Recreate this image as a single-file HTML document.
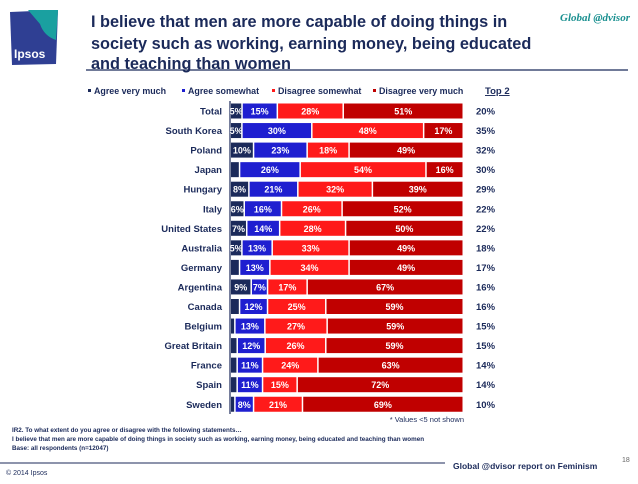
<!DOCTYPE html>
<html><head><meta charset="utf-8"><style>
body{margin:0;width:638px;height:479px;background:#fff;overflow:hidden;font-family:"Liberation Sans",Arial,sans-serif;}
</style></head><body>
<svg id="c" width="638" height="479" xmlns="http://www.w3.org/2000/svg">
<g>
<path d="M10 12 L58 10 L56 64 L12 65 Z" fill="#2f3f93"/>
<path d="M28 10 L58 10 L56 40 Q44 36 40 24 Z" fill="#1aa0a0"/>
<text x="14" y="58" font-size="12" fill="#fff" font-weight="bold">Ipsos</text>
</g>
<text x="91" y="27" font-size="16.3" font-weight="bold" fill="#1b2a5a">I believe that men are more capable of doing things in</text>
<text x="91" y="49" font-size="16.3" font-weight="bold" fill="#1b2a5a">society such as working, earning money, being educated</text>
<text x="91" y="69" font-size="16.3" font-weight="bold" fill="#1b2a5a">and teaching than women</text>
<line x1="86" y1="70" x2="628" y2="70" stroke="#1b2a5a" stroke-width="1.2"/>
<text x="630" y="21" font-size="11" font-style="italic" font-weight="bold" fill="#1a9090" text-anchor="end" font-family="Liberation Serif,serif">Global @dvisor</text>
<g font-size="8.9" font-weight="bold" fill="#1b2a5a">
<rect x="88" y="89" width="3" height="3" fill="#1b2a5a"/><text x="94" y="94">Agree very much</text>
<rect x="182" y="89" width="3" height="3" fill="#1f1fd0"/><text x="188" y="94">Agree somewhat</text>
<rect x="272" y="89" width="3" height="3" fill="#ff1a1a"/><text x="278" y="94">Disagree somewhat</text>
<rect x="373" y="89" width="3" height="3" fill="#c00000"/><text x="379" y="94">Disagree very much</text>
</g>
<text x="485" y="94" font-size="9.5" font-weight="bold" fill="#1b2a5a" text-decoration="underline">Top 2</text>
<line x1="230" y1="101" x2="230" y2="414" stroke="#1b2a5a" stroke-width="1.2"/>
<g id="bars"></g>
<text x="464" y="422" font-size="7.5" fill="#1b2a5a" text-anchor="end">* Values &lt;5 not shown</text>
<g font-size="6.3" font-weight="bold" fill="#1b2a5a">
<text x="12" y="432">IR2. To what extent do you agree or disagree with the following statements…</text>
<text x="12" y="441">I believe that men are more capable of doing things in society such as working, earning money, being educated and teaching than women</text>
<text x="12" y="450">Base: all respondents (n=12047)</text>
</g>
<line x1="0" y1="463" x2="445" y2="463" stroke="#1b2a5a" stroke-width="1"/>
<text x="453" y="469" font-size="8.5" font-weight="bold" fill="#1b2a5a">Global @dvisor report on Feminism</text>
<text x="622" y="462" font-size="7" fill="#666">18</text>
<text x="6" y="475" font-size="7" fill="#1b2a5a">© 2014 Ipsos</text>
</svg>
<script>
const countries=["Total","South Korea","Poland","Japan","Hungary","Italy","United States","Australia","Germany","Argentina","Canada","Belgium","Great Britain","France","Spain","Sweden"];
const agreeVery=[5,5,10,4,8,6,7,5,4,9,4,2,3,3,3,2];
const agreeSome=[15,30,23,26,21,16,14,13,13,7,12,13,12,11,11,8];
const disagreeSome=[28,48,18,54,32,26,28,33,34,17,25,27,26,24,15,21];
const disagreeVery=[51,17,49,16,39,52,50,49,49,67,59,59,59,63,72,69];
const top2=[20,35,32,30,29,22,22,18,17,16,16,15,15,14,14,10];
const series=[agreeVery,agreeSome,disagreeSome,disagreeVery];
const colors=["#1b2a5a","#1f1fd0","#ff1a1a","#c00000"];
const names=["agree-very","agree-somewhat","disagree-somewhat","disagree-very"];
const X0=231,X1=464,Y0=111,STEP=19.55,BH=15;
const ns="http://www.w3.org/2000/svg";
const g=document.getElementById('bars');
function yOf(i){return Y0+i*STEP;}
countries.forEach((c,i)=>{
  const y=yOf(i);
  const tot=series.reduce((s,a)=>s+a[i],0);
  const lab=document.createElementNS(ns,'text');
  
  
  lab.setAttribute('x',222);lab.setAttribute('y',y+3.5);
  lab.setAttribute('text-anchor','end');lab.setAttribute('font-size','9.5');
  lab.setAttribute('font-weight','bold');lab.setAttribute('fill','#1b2a5a');
  lab.textContent=c;g.appendChild(lab);
  let x=X0;
  series.forEach((s,k)=>{
    const w=s[i]/tot*(X1-X0);
    const r=document.createElementNS(ns,'rect');
    
    
    r.setAttribute('x',x);r.setAttribute('y',y-BH/2);
    r.setAttribute('width',Math.max(w-1.5,0.5));r.setAttribute('height',BH);
    r.setAttribute('fill',colors[k]);g.appendChild(r);
    if(s[i]>=5){
      const t=document.createElementNS(ns,'text');
      
      
      t.setAttribute('x',x+(w-1.5)/2);t.setAttribute('y',y+3.5);
      t.setAttribute('text-anchor','middle');t.setAttribute('font-size','9');
      t.setAttribute('font-weight','bold');t.setAttribute('fill','#fff');
      t.textContent=s[i]+'%';g.appendChild(t);
    }
    x+=w;
  });
  const tt=document.createElementNS(ns,'text');
  
  
  tt.setAttribute('x',476);tt.setAttribute('y',y+3.5);
  tt.setAttribute('font-size','9.5');tt.setAttribute('font-weight','bold');
  tt.setAttribute('fill','#1b2a5a');tt.textContent=top2[i]+'%';g.appendChild(tt);
});
</script>
</body></html>
